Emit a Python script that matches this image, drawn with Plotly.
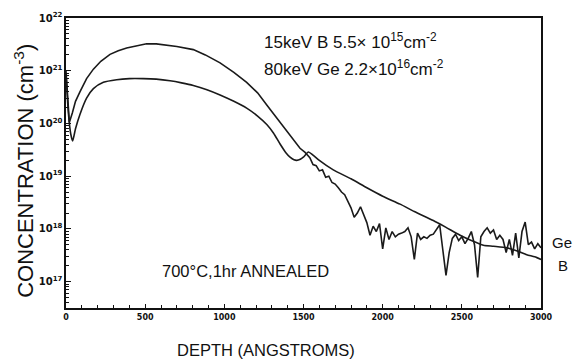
import plotly.graph_objects as go

# ---- data (depth in Angstrom, log10 concentration in cm^-3) ----
ge_depth = [0, 10, 21, 40, 60, 88, 130, 173, 220, 278, 330, 383, 450, 509, 570, 636, 700, 804,
            880, 973, 1060, 1141, 1210, 1268, 1330, 1394, 1440, 1478, 1510,
            1540, 1560, 1580, 1600, 1620, 1640, 1660, 1680, 1700, 1720, 1740, 1760, 1780, 1800,
            1820, 1840, 1860, 1880, 1900, 1920, 1940, 1960, 1980, 2000, 2020, 2040, 2060, 2080,
            2100, 2120, 2140, 2160, 2180, 2200, 2220, 2240, 2260, 2280, 2300, 2320, 2340, 2360,
            2380, 2400, 2420, 2440, 2460, 2480, 2500, 2520, 2540, 2560, 2580, 2600, 2620, 2640,
            2660, 2680, 2700, 2720, 2740, 2760, 2780, 2800, 2820, 2840, 2860, 2880, 2900, 2920,
            2940, 2960, 2980, 3000]
ge_log10 = [21.0, 20.5, 20.02, 20.2, 20.42, 20.6, 20.85, 21.03, 21.18, 21.31, 21.38, 21.43, 21.48,
            21.51, 21.51, 21.49, 21.46, 21.40, 21.30, 21.15, 20.97, 20.78, 20.58, 20.35, 20.11,
            19.86, 19.67, 19.53, 19.45,
            19.35, 19.22, 19.20, 19.10, 19.12, 18.98, 19.00, 18.88, 18.85, 18.78, 18.70, 18.65,
            18.52, 18.40, 18.22, 18.30, 18.42, 18.25, 18.12, 17.88, 18.05, 17.95, 18.10, 17.62,
            18.02, 17.80, 17.95, 17.85, 17.90, 17.92, 17.95, 18.02, 17.85, 17.42, 17.92, 17.80,
            17.85, 17.82, 17.88, 17.90, 17.98, 18.08, 17.60, 17.12, 17.55, 17.82, 17.90, 17.78,
            17.85, 17.72, 17.82, 17.95, 17.70, 17.08, 17.85, 17.95, 18.02, 17.92, 17.98, 17.80,
            17.88, 17.80, 17.55, 17.80, 17.50, 17.92, 17.45, 17.95, 18.13, 17.70, 17.75, 17.62,
            17.72, 17.64]

b_depth = [0, 15, 30, 42, 60, 88, 130, 173, 236, 320, 400, 488, 570, 657, 730, 804, 890, 973,
           1060, 1141, 1210, 1268, 1310, 1352, 1390, 1415, 1440, 1457, 1480, 1499, 1531, 1560,
           1600, 1688, 1800, 1900, 2000, 2110, 2200, 2320, 2400, 2489, 2560, 2636, 2700, 2784,
           2850, 2910, 2960, 3000]
b_log10 = [20.95, 20.2, 19.8, 19.67, 19.9, 20.17, 20.48, 20.66, 20.78, 20.83, 20.85, 20.85, 20.84,
           20.81, 20.77, 20.72, 20.64, 20.54, 20.42, 20.29, 20.14, 19.98, 19.82, 19.61, 19.44,
           19.36, 19.31, 19.30, 19.32, 19.36, 19.46, 19.40, 19.30, 19.12, 18.95, 18.78, 18.62,
           18.47, 18.33, 18.16, 18.03, 17.88, 17.78, 17.69, 17.67, 17.64, 17.58, 17.51, 17.47,
           17.42]

ge_conc = [10.0 ** v for v in ge_log10]
b_conc = [10.0 ** v for v in b_log10]

line_col = "#1a1a1a"
fig = go.Figure()
fig.add_trace(go.Scatter(x=ge_depth, y=ge_conc, mode="lines", name="Ge",
                         line=dict(color=line_col, width=1.6)))
fig.add_trace(go.Scatter(x=b_depth, y=b_conc, mode="lines", name="B",
                         line=dict(color=line_col, width=1.6, shape="spline", smoothing=0.6)))

tick_font = dict(family="DejaVu Sans", size=8, color="#111", weight="bold")
fig.update_xaxes(range=[0, 3000], tickmode="linear", tick0=0, dtick=500,
                 ticks="inside", ticklen=4, tickwidth=1.4, tickcolor="#111",
                 minor=dict(ticks="inside", ticklen=3, dtick=100, tickcolor="#111",
                            tickwidth=1.2, showgrid=False),
                 showline=True, linewidth=2, linecolor="#111", mirror=True,
                 showgrid=False, zeroline=False, tickfont=tick_font)
fig.update_yaxes(type="log", range=[16.5, 22], tickmode="linear", tick0=0, dtick=1,
                 exponentformat="power", showexponent="all",
                 ticks="inside", ticklen=5, tickwidth=1.4, tickcolor="#111",
                 minor=dict(ticks="inside", ticklen=3, dtick="D1", tickcolor="#111",
                            tickwidth=1.2, showgrid=False),
                 showline=True, linewidth=2, linecolor="#111", mirror=True,
                 showgrid=False, zeroline=False, tickfont=tick_font)

txt = dict(family="Liberation Sans, Arial", color="#111")
ann = [
    dict(text="15keV B 5.5× 10<sup>15</sup>cm<sup>-2</sup>", x=0.4126, y=0.919,
         xanchor="left", yanchor="middle", font=dict(size=17, **txt)),
    dict(text="80keV Ge 2.2×10<sup>16</sup>cm<sup>-2</sup>", x=0.4126, y=0.828,
         xanchor="left", yanchor="middle", font=dict(size=17, **txt)),
    dict(text="700°C,1hr ANNEALED", x=0.198, y=0.128,
         xanchor="left", yanchor="middle", font=dict(size=16.5, **txt)),
    dict(text="Ge", x=1.019, y=0.226, xanchor="left", yanchor="middle",
         font=dict(size=15, **txt)),
    dict(text="B", x=1.032, y=0.148, xanchor="left", yanchor="middle",
         font=dict(size=15, **txt)),
    dict(text="CONCENTRATION (cm<sup>-3</sup>)", x=-0.0884, y=0.473, textangle=-90,
         xanchor="center", yanchor="middle", font=dict(size=22, **txt)),
    dict(text="DEPTH (ANGSTROMS)", x=0.421, y=-0.145, xanchor="center", yanchor="middle",
         font=dict(size=16.5, **txt)),
]
for a in ann:
    fig.add_annotation(xref="paper", yref="paper", showarrow=False, **a)

fig.update_layout(width=582, height=364, margin=dict(l=66, r=41, t=11, b=56),
                  paper_bgcolor="white", plot_bgcolor="white", showlegend=False)
fig.write_html("out.html")
